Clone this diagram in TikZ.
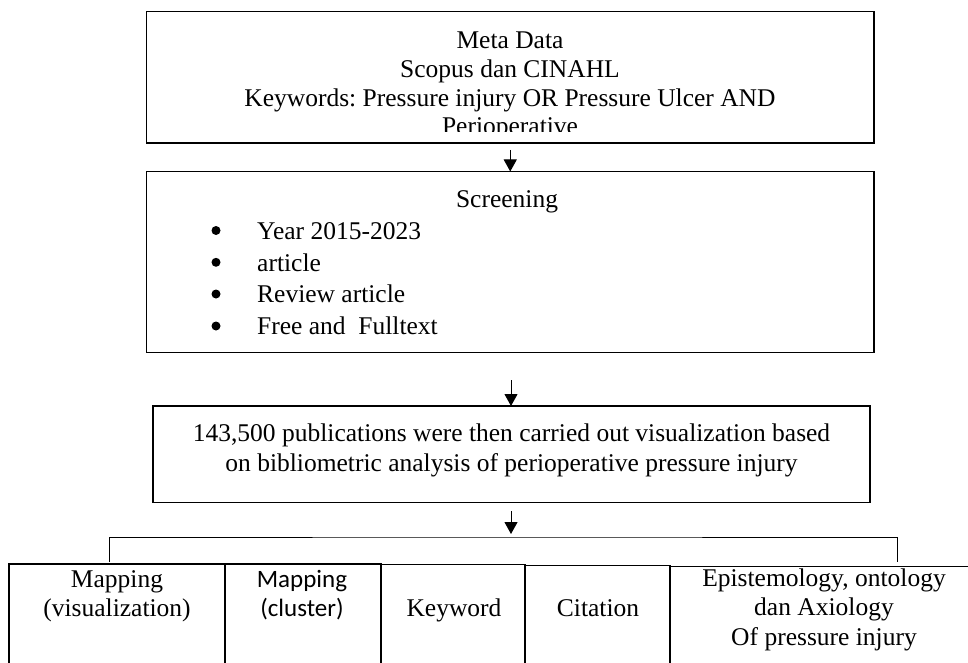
\documentclass[tikz,border=0pt]{standalone}
\usepackage{fontspec}
\setmainfont{Liberation Serif}
\newfontfamily\calfont{Carlito}
\usetikzlibrary{arrows.meta}
\begin{document}
\frenchspacing
\begin{tikzpicture}[x=1pt,y=-1pt,
  box/.style={draw=black, line width=1.3pt, anchor=north west, inner sep=0pt, outer sep=0pt},
  txt/.style={anchor=base, inner sep=0pt, font=\fontsize{25.5}{28.5}\selectfont},
  ltxt/.style={txt, anchor=base west},
  ctxt/.style={txt, font=\calfont\fontsize{25}{28.5}\selectfont},
  arr/.style={line width=1pt, -{Triangle[length=12pt,width=13pt]}},
  dot/.style={circle, fill=black, inner sep=0pt, minimum size=9pt},
  bline/.style={line width=1pt}]
\useasboundingbox (0,0) rectangle (968,663);
% main boxes
\node[box, minimum width=727.5pt, minimum height=131.5pt] (b1) at (146.5,11.5) {};
\node[box, minimum width=727.5pt, minimum height=181pt] (b2) at (146.5,171.5) {};
\node[box, minimum width=717pt, minimum height=96.5pt] (b3) at (153,406) {};
% bottom boxes
\node[box, minimum width=216pt, minimum height=120pt] (c1) at (9,564) {};
\node[box, minimum width=156pt, minimum height=120pt] (c2) at (225,564) {};
\node[box, minimum width=144pt, minimum height=120pt] (c3) at (381,564.5) {};
\node[box, minimum width=145pt, minimum height=120pt] (c4) at (525,565.5) {};
\node[box, minimum width=310pt, minimum height=120pt] (c5) at (670,566.5) {};
% box 1 text
\node[txt] (t1a) at (510,49) {Meta Data};
\node[txt] (t1b) at (510,78) {Scopus dan CINAHL};
\node[txt] (t1c) at (510,106.5) {Keywords: Pressure injury OR Pressure Ulcer AND};
\begin{scope}
  \clip (147,112) rectangle (874,132);
  \node[txt] (t1d) at (510,134.5) {Perioperative};
\end{scope}
% box 2 text
\node[txt] (t2) at (507,207) {Screening};
\node[dot] (d1) at (216,230.5) {};
\node[dot] (d2) at (216,262.3) {};
\node[dot] (d3) at (216,294) {};
\node[dot] (d4) at (216,326) {};
\node[ltxt] (i1) at (257,239.5) {Year 2015-2023};
\node[ltxt] (i2) at (257,271) {article};
\node[ltxt] (i3) at (257,302.5) {Review article};
\node[ltxt] (i4) at (257,334.5) {Free and\ \ Fulltext};
% box 3 text
\node[txt] (t3a) at (511.5,441) {143,500 publications were then carried out visualization based};
\node[txt] (t3b) at (511.5,471) {on bibliometric analysis of perioperative pressure injury};
% bottom texts
\node[txt] (m1a) at (117,587) {Mapping};
\node[txt] (m1b) at (117,616) {(visualization)};
\node[ctxt] (m2a) at (302,587) {Mapping};
\node[ctxt] (m2b) at (302,616) {(cluster)};
\node[txt] (kw) at (454,616) {Keyword};
\node[txt] (ci) at (598,616) {Citation};
\node[txt] (e1) at (824,586) {Epistemology, ontology};
\node[txt] (e2) at (824,615.5) {dan Axiology};
\node[txt] (e3) at (824,645) {Of pressure injury};
% connectors
\draw[arr] ([yshift=-7pt]b1.south) -- (b2.north);
\coordinate (a2) at (511,380);
\draw[arr] (a2) -- (a2 |- b3.north);
\coordinate (a3) at (511,511);
\coordinate (brm) at (511,537);
\coordinate (brl) at (109,562);
\coordinate (brr) at (897,562);
\draw[arr] (a3) -- ([yshift=3pt]brm);
\draw[bline] (brl) |- (brm) -| (brr);
\end{tikzpicture}
\end{document}
